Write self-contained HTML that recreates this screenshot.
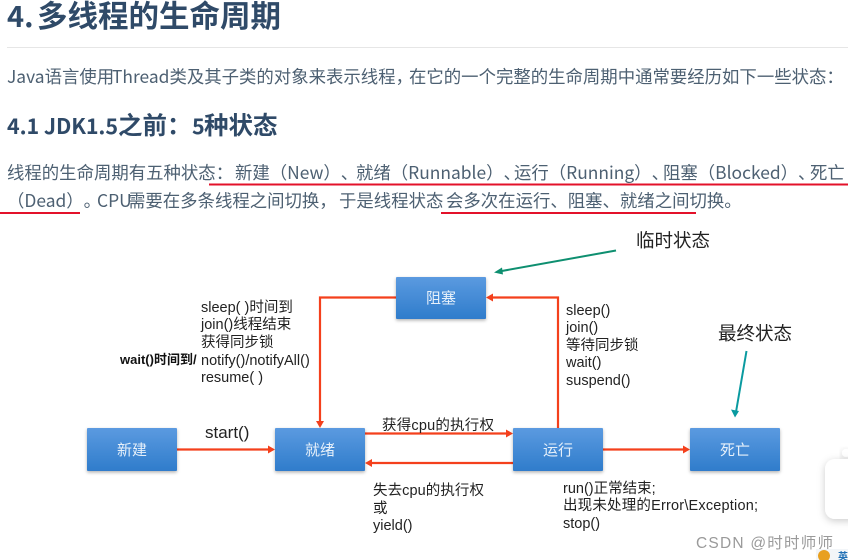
<!DOCTYPE html>
<html><head><meta charset="utf-8"><style>
html,body{margin:0;padding:0;background:#fff;width:848px;height:560px;overflow:hidden}
svg{display:block;filter:blur(.35px)}
text{font-family:"Liberation Sans","Noto Sans CJK SC",sans-serif;text-spacing-trim:space-all;text-autospace:no-autospace}
.b{font-family:"Noto Sans CJK SC",sans-serif;fill:#4d6072;font-size:17.400px}
.h{font-family:"Noto Sans CJK SC",sans-serif;fill:#2f4a68;font-weight:700}
.l{fill:#222;font-size:14.5px}
.n{fill:#e6f0fa;font-size:15px;text-anchor:middle}
.c{fill:#222;font-size:18.5px}
</style></head><body>
<svg width="848" height="560" viewBox="0 0 848 560" xmlns="http://www.w3.org/2000/svg">
<defs>
<linearGradient id="g" x1="0" y1="0" x2="0" y2="1"><stop offset="0" stop-color="#5b9ae0"/><stop offset="1" stop-color="#2f7ccb"/></linearGradient>
<filter id="s" x="-10%" y="-20%" width="120%" height="140%"><feDropShadow dx="0" dy="1.5" stdDeviation="1.5" flood-color="#000" flood-opacity=".3"/></filter>
<filter id="s2" x="-30%" y="-30%" width="160%" height="160%"><feDropShadow dx="0" dy="2" stdDeviation="4" flood-color="#000" flood-opacity=".2"/></filter>
</defs>
<text class="h" x="7" y="27" font-size="29">4.</text>
<text class="h" x="37" y="27" font-size="30.500" textLength="244">多线程的生命周期</text>
<rect x="7" y="47" width="841" height="1" fill="#e6e6e6"/>
<text class="b" y="83"><tspan x="7">Java语言使用</tspan><tspan x="112">Thread类及其子类的对象来表示线程，</tspan><tspan x="409">在它的一个完整的生命周期中通常要经历如下一些状态：</tspan></text>
<text class="h" x="7" y="134" font-size="21.500" textLength="111">4.1 JDK1.5</text>
<text class="h" x="118" y="134" font-size="24.500">之前：</text>
<text class="h" x="192" y="134" font-size="21.500">5</text>
<text class="h" x="204" y="134" font-size="24.500">种状态</text>
<text class="b" y="179"><tspan x="7">线程的生命周期有五种状态：</tspan><tspan x="235">新建（New）、</tspan><tspan x="356">就绪（Runnable）、</tspan><tspan x="514">运行（Running）、</tspan><tspan x="663">阻塞（Blocked）、</tspan><tspan x="810">死亡</tspan></text>
<text class="b" y="207"><tspan x="7">（Dead）。</tspan><tspan x="97">CPU</tspan><tspan x="128">需要在多条线程之间切换，</tspan><tspan x="339">于是线程状态</tspan><tspan x="446">会多次在运行、阻塞、就绪之间切换。</tspan></text>
<rect x="209" y="183.500" width="639" height="2" fill="#e3112a"/>
<rect x="0" y="212" width="80" height="2" fill="#e3112a"/>
<rect x="441" y="212" width="255" height="2" fill="#e3112a"/>

<g fill="none" stroke="#f4401c" stroke-width="2.200">
<path d="M177 449.500H270"/>
<path d="M365 433.500H509"/>
<path d="M513 463H369"/>
<path d="M603 449.500H686"/>
<path d="M558 428V297.500H491"/>
<path d="M396 297.500H320V424"/>
</g>
<g fill="#f4401c">
<path d="M275 449.500l-7-4v8z"/>
<path d="M513 433.500l-7-4v8z"/>
<path d="M365 463l7-4v8z"/>
<path d="M690 449.500l-7-4v8z"/>
<path d="M486 297.500l7-4v8z"/>
<path d="M320 428l-4-7h8z"/>
</g>
<path d="M616 250.500L499 271.500" stroke="#0e8f70" stroke-width="2" fill="none"/>
<path d="M494 272.500l8-5 1 7z" fill="#0e8f70"/>
<path d="M746.500 351L736 412" stroke="#0a9aa0" stroke-width="2" fill="none"/>
<path d="M735 417.500l-4-8 8 1.500z" fill="#0a9aa0"/>

<g filter="url(#s)" fill="url(#g)">
<rect x="87" y="428" width="90" height="43" rx="1"/>
<rect x="275" y="428" width="90" height="43" rx="1"/>
<rect x="513" y="428" width="90" height="43" rx="1"/>
<rect x="690" y="428" width="90" height="43" rx="1"/>
<rect x="396" y="277" width="90" height="42" rx="1"/>
</g>
<text class="n" x="132" y="455">新建</text>
<text class="n" x="320" y="455">就绪</text>
<text class="n" x="558" y="455">运行</text>
<text class="n" x="735" y="455">死亡</text>
<text class="n" x="441" y="303">阻塞</text>

<text class="l" x="201" y="312">sleep( )时间到</text>
<text class="l" x="201" y="329">join()线程结束</text>
<text class="l" x="201" y="347">获得同步锁</text>
<text class="l" x="201" y="365">notify()/notifyAll()</text>
<text class="l" x="201" y="382">resume( )</text>
<text x="120" y="364" font-size="13" font-weight="700" fill="#111">wait()时间到/</text>
<text x="205" y="438" font-size="17" fill="#222">start()</text>
<text class="l" x="566" y="315">sleep()</text>
<text class="l" x="566" y="332">join()</text>
<text class="l" x="566" y="350">等待同步锁</text>
<text class="l" x="566" y="367">wait()</text>
<text class="l" x="566" y="385">suspend()</text>
<text class="l" x="382" y="430" textLength="112">获得cpu的执行权</text>
<text class="l" x="373" y="495" textLength="111">失去cpu的执行权</text>
<text class="l" x="373" y="513">或</text>
<text class="l" x="373" y="530">yield()</text>
<text class="l" x="563" y="493">run()正常结束;</text>
<text class="l" x="563" y="510" textLength="195">出现未处理的Error\Exception;</text>
<text class="l" x="563" y="528">stop()</text>
<text class="c" x="636" y="247">临时状态</text>
<text class="c" x="718" y="340">最终状态</text>

<circle cx="846" cy="453" r="4" fill="#fff" filter="url(#s2)"/>
<rect x="825" y="459" width="50" height="60" rx="10" fill="#fff" filter="url(#s2)"/>
<text x="696" y="548" font-size="15.500" fill="#9a9a9a" textLength="137">CSDN @时时师师</text>
<rect x="816" y="549" width="32" height="11" fill="#f2f5f8"/>
<circle cx="824" cy="556" r="6" fill="#e8a020"/>
<text x="838" y="560" font-size="10" font-weight="700" fill="#1f6fb5">英</text>
</svg>
</body></html>
